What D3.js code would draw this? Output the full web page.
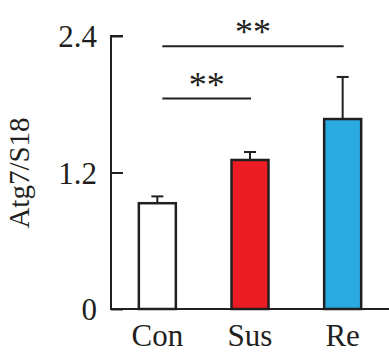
<!DOCTYPE html>
<html><head><meta charset="utf-8">
<script src="https://cdn.jsdelivr.net/npm/d3@7"></script>
<style>body{margin:0;background:#fff}svg{display:block}</style>
</head><body>
<svg id="c" width="389" height="358"></svg>
<script>
const categories = ["Con", "Sus", "Re"];
const values = [0.93, 1.31, 1.67];
const errors = [0.06, 0.07, 0.37];
const colors = ["#ffffff", "#ed1c24", "#29abe2"];
const yTicks = [0, 1.2, 2.4];
const yTickLabels = ["0", "1.2", "2.4"];
const sig = [{from: "Con", to: "Sus", level: 1.85, label: "**"}, {from: "Con", to: "Re", level: 2.31, label: "**"}];

const svg = d3.select("#c");
const ink = "#231f20";
const font = "'Liberation Serif','DejaVu Serif',serif";
const y = d3.scaleLinear().domain([0, 2.4]).range([309, 36]);
const x = d3.scaleBand().domain(categories).range([111, 389]).paddingInner(0.6).paddingOuter(0.3);
const bw = 37;
const cx = c => x(c) + x.bandwidth() / 2;

// axis
const yAxis = d3.axisRight(y).tickValues(yTicks).tickSize(12).tickFormat("");
const gy = svg.append("g").attr("transform", "translate(111,0)").call(yAxis);
gy.select(".domain").attr("stroke", ink).attr("stroke-width", 2).attr("d", `M12,${y(2.4)}H0V${y(0)}`);
gy.selectAll(".tick line").attr("stroke", ink).attr("stroke-width", 2);
svg.selectAll(".ylab").data(yTicks).join("text")
  .attr("x", 97).attr("y", d => y(d) + 11).attr("text-anchor", "end")
  .attr("font-family", font).attr("font-size", 31).attr("fill", ink)
  .text((d, i) => yTickLabels[i]);
svg.append("line").attr("x1", 110).attr("x2", 389).attr("y1", y(0)).attr("y2", y(0))
  .attr("stroke", ink).attr("stroke-width", 2);

// y title
svg.append("text").attr("transform", "translate(29,173) rotate(-90)")
  .attr("text-anchor", "middle").attr("font-family", font).attr("font-size", 29).attr("fill", ink)
  .text("Atg7/S18");

// error bars
categories.forEach((c, i) => {
  const top = y(values[i] + errors[i]);
  svg.append("line").attr("x1", cx(c)).attr("x2", cx(c)).attr("y1", y(values[i])).attr("y2", top)
    .attr("stroke", ink).attr("stroke-width", 2);
  svg.append("line").attr("x1", cx(c) - 6).attr("x2", cx(c) + 6).attr("y1", top).attr("y2", top)
    .attr("stroke", ink).attr("stroke-width", 2);
});

// bars
svg.selectAll(".bar").data(categories).join("rect")
  .attr("x", c => cx(c) - bw / 2).attr("width", bw)
  .attr("y", (c, i) => y(values[i])).attr("height", (c, i) => y(0) - y(values[i]))
  .attr("fill", (c, i) => colors[i]).attr("stroke", ink).attr("stroke-width", 2.5);

// category labels
svg.selectAll(".xlab").data(categories).join("text")
  .attr("x", c => cx(c)).attr("y", 346).attr("text-anchor", "middle")
  .attr("font-family", font).attr("font-size", 31).attr("fill", ink).text(c => c);

// significance
sig.forEach(s => {
  const x1 = cx(s.from) + 5, x2 = cx(s.to) + 1;
  svg.append("line").attr("x1", x1).attr("x2", x2).attr("y1", y(s.level)).attr("y2", y(s.level))
    .attr("stroke", ink).attr("stroke-width", 2);
  svg.append("text").attr("x", (x1 + x2) / 2).attr("y", y(s.level) - 2).attr("text-anchor", "middle")
    .attr("font-family", font).attr("font-size", 36).attr("fill", ink).text(s.label);
});
</script>
</body></html>
